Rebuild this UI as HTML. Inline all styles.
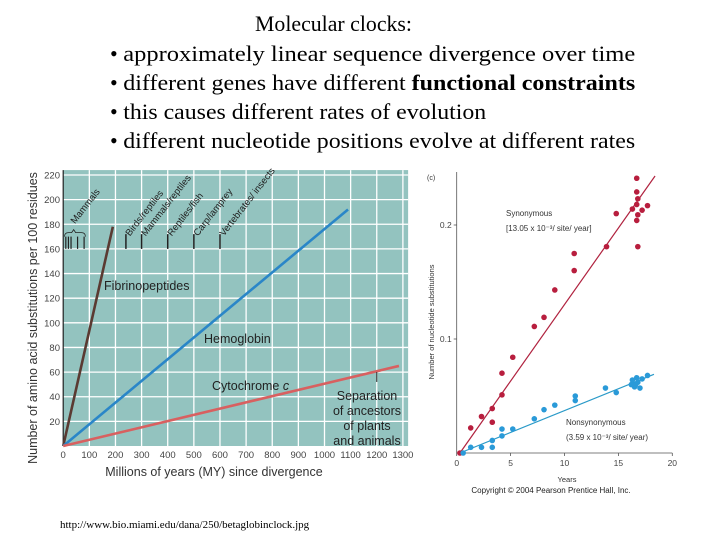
<!DOCTYPE html>
<html><head><meta charset="utf-8"><style>
body{margin:0;background:#fff}
svg{display:block}
text{font-family:"Liberation Sans",sans-serif}
.serif{font-family:"Liberation Serif",serif}
</style></head><body>
<svg id="root" width="720" height="540" viewBox="0 0 720 540" xmlns="http://www.w3.org/2000/svg">
<g class="serif" font-size="22" fill="#000">
<text class="serif" x="255" y="31" textLength="157" lengthAdjust="spacingAndGlyphs">Molecular clocks:</text>
<text class="serif" x="110" y="61">• <tspan textLength="512" lengthAdjust="spacingAndGlyphs">approximately linear sequence divergence over time</tspan></text>
<text class="serif" x="110" y="90">• <tspan textLength="512" lengthAdjust="spacingAndGlyphs">different genes have different <tspan font-weight="bold">functional constraints</tspan></tspan></text>
<text class="serif" x="110" y="119">• <tspan textLength="363" lengthAdjust="spacingAndGlyphs">this causes different rates of evolution</tspan></text>
<text class="serif" x="110" y="148">• <tspan textLength="512" lengthAdjust="spacingAndGlyphs">different nucleotide positions evolve at different rates</tspan></text>
</g>
<g id="left"></g>
<g id="right"></g>
<text class="serif" x="60" y="528" font-size="11">http://www.bio.miami.edu/dana/250/betaglobinclock.jpg</text>
</svg>
<script>
// Left chart data
const leftXTicks = [0,100,200,300,400,500,600,700,800,900,1000,1100,1200,1300];
const leftYTicks = [20,40,60,80,100,120,140,160,180,200,220];
const proteinNames = ["Fibrinopeptides","Hemoglobin","Cytochrome c"];
const proteinEndMY = [190,1090,1285];
const proteinEndValue = [178,192,65];
const divergenceNames = ["Birds/reptiles","Mammals/reptiles","Reptiles/fish","Carp/lamprey","Vertebrates/ insects"];
const divergenceMY = [240,300,400,500,600];
const mammalMY = [10,20,30,55,80];
// Right chart data
const rightXTicks = [0,5,10,15,20];
const rightYTicks = [0.1,0.2];
const synYears = [0.3,1.3,2.3,3.3,3.3,4.2,4.2,5.2,7.2,8.1,9.1,10.9,10.9,13.9,14.8,16.3,16.7,16.7,16.8,16.7,16.8,16.7,16.8,17.2,17.7];
const synValues = [0,0.022,0.032,0.039,0.027,0.051,0.07,0.084,0.111,0.119,0.143,0.160,0.175,0.181,0.210,0.214,0.241,0.229,0.223,0.218,0.209,0.204,0.181,0.213,0.217];
const synLine = [[0.3,0],[18.4,0.243]];
const nonYears = [0.6,1.3,2.3,3.3,3.3,4.2,4.2,5.2,7.2,8.1,9.1,11,11,13.8,14.8,16.2,16.3,16.5,16.7,16.8,17.0,17.2,16.6,17.7];
const nonValues = [0,0.005,0.005,0.005,0.011,0.015,0.021,0.021,0.03,0.038,0.042,0.046,0.05,0.057,0.053,0.06,0.064,0.058,0.066,0.062,0.057,0.065,0.06,0.068];
const nonLine = [[0.3,0],[18.3,0.069]];

const NS="http://www.w3.org/2000/svg";
function mk(parent,tag,attrs,txt){const e=document.createElementNS(NS,tag);for(const k in attrs)e.setAttribute(k,attrs[k]);if(txt!==undefined)e.textContent=txt;parent.appendChild(e);return e;}

// ---- Left chart
const L=document.getElementById('left');
const lx=v=>63.2+v*0.2613, ly=v=>446-v*1.2318;
let e=mk(L,'rect',{x:lx(0),y:ly(224),width:lx(1320)-lx(0),height:ly(0)-ly(224),fill:'#93c3bf'});


leftXTicks.forEach(t=>{
  if(t>0){const g=mk(L,'line',{x1:lx(t),x2:lx(t),y1:ly(224),y2:ly(0),stroke:'#fff','stroke-width':1.3});
  
  }
  const tl=mk(L,'text',{x:lx(t),y:458,'font-size':9.5,fill:'#444','text-anchor':'middle'},String(t));
  
  
});
leftYTicks.forEach(t=>{
  const g=mk(L,'line',{x1:lx(0),x2:lx(1320),y1:ly(t),y2:ly(t),stroke:'#fff','stroke-width':1.3});
  
  
  const tl=mk(L,'text',{x:60,y:ly(t)+3.5,'font-size':9.5,fill:'#444','text-anchor':'end'},String(t));
  
  
});
e=mk(L,'line',{x1:lx(0),x2:lx(0),y1:ly(224),y2:ly(0),stroke:'#222','stroke-width':1.2});


const colors=['#5a3a32','#2a86c8','#d86060'];
proteinNames.forEach((n,i)=>{
  const l=mk(L,'line',{x1:lx(0),y1:ly(0),x2:lx(proteinEndMY[i]),y2:ly(proteinEndValue[i]),stroke:colors[i],'stroke-width':2.6});
  
  
});
[['Fibrinopeptides',104,290],['Hemoglobin',204,343],['Cytochrome ',212,390]].forEach((a,i)=>{
  const t=mk(L,'text',{x:a[1],y:a[2],'font-size':12.5,fill:'#222'},a[0]);
  if(i==2){mk(t,'tspan',{'font-style':'italic'},'c');}
  
  
});
['Separation','of ancestors','of plants','and animals'].forEach((s,i)=>{
  const t=mk(L,'text',{x:367,y:400+i*15,'font-size':12.5,fill:'#222','text-anchor':'middle'},s);
  
  
});
e=mk(L,'line',{x1:lx(1200),x2:lx(1200),y1:ly(60),y2:ly(52),stroke:'#222','stroke-width':1});


divergenceMY.forEach((m,i)=>{
  const a=mk(L,'line',{x1:lx(m),x2:lx(m),y1:ly(172),y2:ly(160),stroke:'#222','stroke-width':1.5});
  
  
  const x=lx(m)+4,y=ly(170);
  const t=mk(L,'text',{x:x,y:y,'font-size':9.5,fill:'#222',transform:`rotate(-52 ${x} ${y})`},divergenceNames[i]);
  
  
});
mammalMY.forEach(m=>{
  const a=mk(L,'line',{x1:lx(m),x2:lx(m),y1:ly(170),y2:ly(160),stroke:'#222','stroke-width':1.2});
  
  
});
e=mk(L,'path',{d:`M${lx(5)} ${ly(170)} q0 -4 4 -4 h${lx(40)-lx(5)-6} l2 -3 l2 3 h${lx(85)-lx(40)-6} q4 0 4 4`,fill:'none',stroke:'#222','stroke-width':0.8});


e=mk(L,'text',{x:lx(45),y:ly(180),'font-size':9.5,fill:'#222',transform:`rotate(-52 ${lx(45)} ${ly(180)})`},'Mammals');


e=mk(L,'text',{x:214,y:476,'font-size':12.5,fill:'#333','text-anchor':'middle'},'Millions of years (MY) since divergence');


e=mk(L,'text',{x:37,y:318,'font-size':12.5,fill:'#333','text-anchor':'middle',transform:'rotate(-90 37 318)'},'Number of amino acid substitutions per 100 residues');



// ---- Right chart
const R=document.getElementById('right');
const rx=v=>456.7+v*10.78, ry=v=>453-v*1140;
e=mk(R,'line',{x1:rx(0),x2:rx(0),y1:172,y2:ry(0),stroke:'#555','stroke-width':0.8});


e=mk(R,'line',{x1:rx(0),x2:rx(20),y1:ry(0),y2:ry(0),stroke:'#555','stroke-width':0.8});


rightXTicks.forEach(t=>{
  const k=mk(R,'line',{x1:rx(t),x2:rx(t),y1:ry(0),y2:ry(0)+3,stroke:'#555','stroke-width':0.8});
  
  
  const tl=mk(R,'text',{x:rx(t),y:466,'font-size':8.5,fill:'#444','text-anchor':'middle'},String(t));
  
  
});
rightYTicks.forEach(t=>{
  const k=mk(R,'line',{x1:rx(0)-3,x2:rx(0),y1:ry(t),y2:ry(t),stroke:'#555','stroke-width':0.8});
  
  
  const tl=mk(R,'text',{x:rx(0)-5,y:ry(t)+3,'font-size':8.5,fill:'#444','text-anchor':'end'},String(t));
  
  
});
e=mk(R,'line',{x1:rx(synLine[0][0]),y1:ry(synLine[0][1]),x2:rx(synLine[1][0]),y2:ry(synLine[1][1]),stroke:'#b0223f','stroke-width':1.2});


e=mk(R,'line',{x1:rx(nonLine[0][0]),y1:ry(nonLine[0][1]),x2:rx(nonLine[1][0]),y2:ry(nonLine[1][1]),stroke:'#2a9ac8','stroke-width':1.2});


synYears.forEach((y,i)=>{
  const c=mk(R,'circle',{cx:rx(y),cy:ry(synValues[i]),r:2.8,fill:'#b81e3e'});
  
  
});
nonYears.forEach((y,i)=>{
  const c=mk(R,'circle',{cx:rx(y),cy:ry(nonValues[i]),r:2.8,fill:'#2a9ad8'});
  
  
});
[['Synonymous',506,216],['[13.05 x 10\u207B\u00B3/ site/ year]',506,231],['Nonsynonymous',566,425],['(3.59 x 10\u207B\u00B3/ site/ year)',566,440]].forEach(a=>{
  const t=mk(R,'text',{x:a[1],y:a[2],'font-size':8,fill:'#333'},a[0]);
  
  
});
e=mk(R,'text',{x:427,y:180,'font-size':7,fill:'#333'},'(c)');


e=mk(R,'text',{x:567,y:482,'font-size':7.5,fill:'#333','text-anchor':'middle'},'Years');


e=mk(R,'text',{x:434,y:322,'font-size':7.5,fill:'#333','text-anchor':'middle',transform:'rotate(-90 434 322)'},'Number of nucleotide substitutions');


e=mk(R,'text',{x:551,y:493,'font-size':8,fill:'#222','text-anchor':'middle'},'Copyright © 2004 Pearson Prentice Hall, Inc.');


</script>
</body></html>
